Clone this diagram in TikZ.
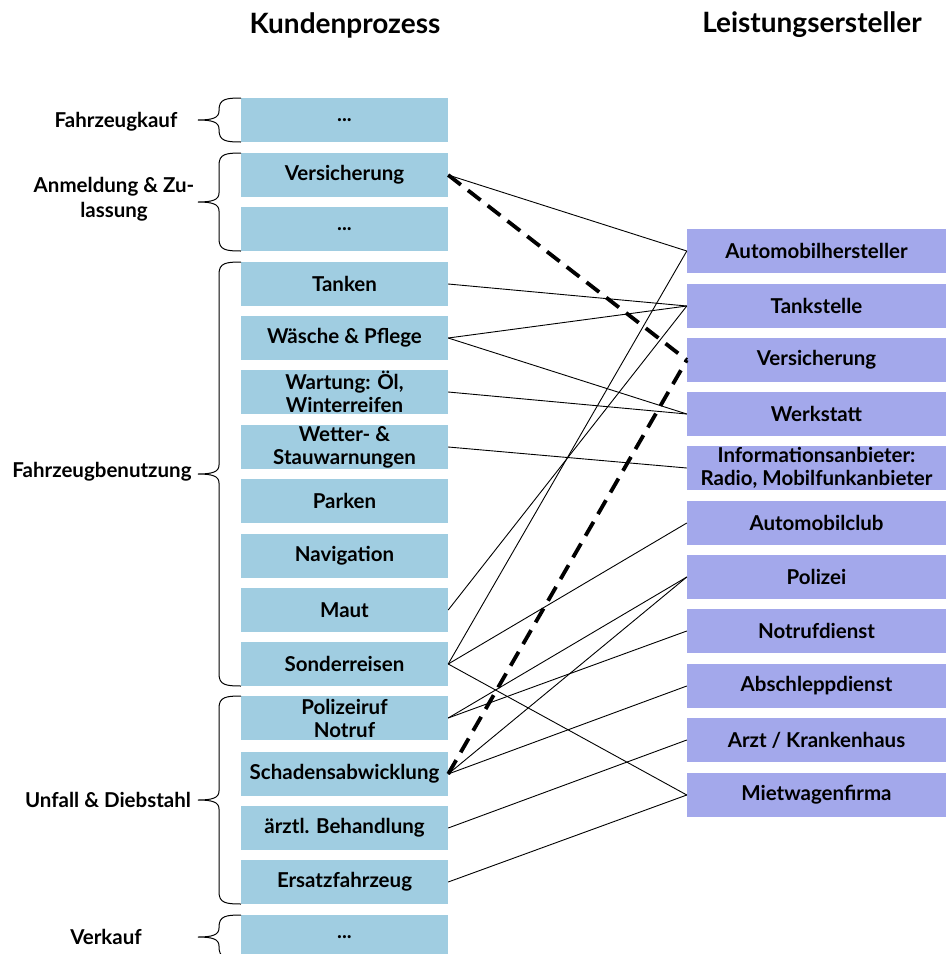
\documentclass[tikz,border=0pt]{standalone}
\usepackage{fontspec}
\setmainfont{Lato}
\definecolor{lblue}{RGB}{160,205,225}
\definecolor{rblue}{RGB}{163,168,235}
\newcommand\grpbrace[2]{%
  \pgfmathsetmacro\ymid{(#1+#2)/2}%
  \draw[bracestyle] (241,#1) .. controls (226,#1) and (219,{#1+1}) .. (219,{#1+12})
    -- (219,{\ymid-9}) .. controls (219,{\ymid-2}) and (212,\ymid) .. (198,\ymid)
    .. controls (212,\ymid) and (219,{\ymid+2}) .. (219,{\ymid+9})
    -- (219,{#2-12}) .. controls (219,{#2-1}) and (226,#2) .. (241,#2);%
}
\begin{document}
\begin{tikzpicture}[x=1pt,y=-1pt,
  lbox/.style={fill=lblue, minimum width=207pt, minimum height=44pt, inner sep=0pt, align=center, font=\fontsize{20.5}{23}\selectfont\bfseries},
  rbox/.style={fill=rblue, minimum width=259pt, minimum height=44pt, inner sep=0pt, align=center, font=\fontsize{20.5}{23}\selectfont\bfseries},
  glabel/.style={align=center, inner sep=0pt, font=\fontsize{20.5}{25}\selectfont\bfseries},
  title/.style={inner sep=0pt, font=\fontsize{28}{30}\selectfont\bfseries},
  bracestyle/.style={line width=1pt},
  conn/.style={line width=0.9pt},
  dconn/.style={line width=3.8pt, dash pattern=on 16pt off 9pt}]
\useasboundingbox (0,0) rectangle (946,954);
\clip (0,0) rectangle (946,954);

\node[title] (t1) at (345,25) {Kundenprozess};
\node[title] (t2) at (812,25) {Leistungsersteller};

% left column
\node[lbox] (l1) at (344.5,120) {...};
\node[lbox] (l2) at (344.5,175) {Versicherung};
\node[lbox] (l3) at (344.5,229) {...};
\node[lbox] (l4) at (344.5,284) {Tanken};
\node[lbox] (l5) at (344.5,338) {Wäsche \& Pflege};
\node[lbox] (l6) at (344.5,392) {Wartung: Öl,\\Winterreifen};
\node[lbox] (l7) at (344.5,447) {Wetter- \&\\Stauwarnungen};
\node[lbox] (l8) at (344.5,501) {Parken};
\node[lbox] (l9) at (344.5,556) {Navigation};
\node[lbox] (l10) at (344.5,610) {Maut};
\node[lbox] (l11) at (344.5,664) {Sonderreisen};
\node[lbox] (l12) at (344.5,718) {Polizeiruf\\Notruf};
\node[lbox] (l13) at (344.5,774) {Schadensabwicklung};
\node[lbox] (l14) at (344.5,828) {ärztl. Behandlung};
\node[lbox] (l15) at (344.5,882) {Ersatzfahrzeug};
\node[lbox] (l16) at (344.5,937) {...};

% right column
\node[rbox] (r1) at (816.5,251) {Automobilhersteller};
\node[rbox] (r2) at (816.5,306) {Tankstelle};
\node[rbox] (r3) at (816.5,360) {Versicherung};
\node[rbox] (r4) at (816.5,414) {Werkstatt};
\node[rbox] (r5) at (816.5,468) {Informationsanbieter:\\Radio, Mobilfunkanbieter};
\node[rbox] (r6) at (816.5,523) {Automobilclub};
\node[rbox] (r7) at (816.5,577) {Polizei};
\node[rbox] (r8) at (816.5,631) {Notrufdienst};
\node[rbox] (r9) at (816.5,686) {Abschleppdienst};
\node[rbox] (r10) at (816.5,740) {Arzt / Krankenhaus};
\node[rbox] (r11) at (816.5,795) {Mietwagenfirma};

% group labels and braces
\node[glabel] (g1) at (116,122) {Fahrzeugkauf};
\node[glabel] (g2) at (114,199) {Anmeldung \& Zu-\\lassung};
\node[glabel] (g3) at (102,472) {Fahrzeugbenutzung};
\node[glabel] (g4) at (108,800) {Unfall \& Diebstahl};
\node[glabel] (g5) at (106,937) {Verkauf};
\grpbrace{98}{142}
\grpbrace{153}{251}
\grpbrace{262}{686}
\grpbrace{696}{904}
\grpbrace{915}{959}

% connectors
\draw[conn] (l2.east) -- (r1.west);
\draw[dconn] (l2.east) -- (r3.west);
\draw[conn] (l4.east) -- (r2.west);
\draw[conn] (l5.east) -- (r2.west);
\draw[conn] (l5.east) -- (r4.west);
\draw[conn] (l6.east) -- (r4.west);
\draw[conn] (l7.east) -- (r5.west);
\draw[conn] (l10.east) -- (r2.west);
\draw[conn] (l11.east) -- (r1.west);
\draw[conn] (l11.east) -- (r6.west);
\draw[conn] (l11.east) -- (r11.west);
\draw[conn] (l12.east) -- (r7.west);
\draw[conn] (l12.east) -- (r8.west);
\draw[dconn] (l13.east) -- (r3.west);
\draw[conn] (l13.east) -- (r7.west);
\draw[conn] (l13.east) -- (r9.west);
\draw[conn] (l14.east) -- (r10.west);
\draw[conn] (l15.east) -- (r11.west);
\end{tikzpicture}
\end{document}
